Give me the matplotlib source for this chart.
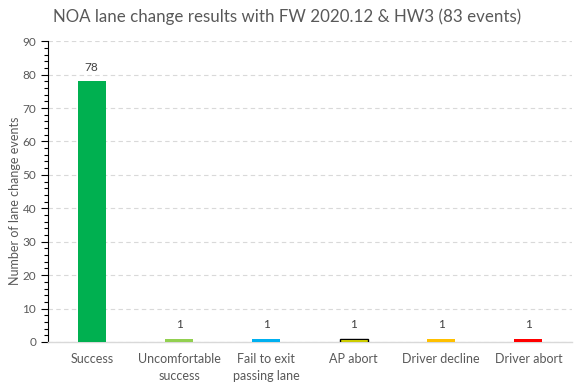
import matplotlib
matplotlib.use("Agg")
import matplotlib.pyplot as plt
from matplotlib.ticker import MultipleLocator

categories = ["Success", "Uncomfortable\nsuccess", "Fail to exit\npassing lane",
              "AP abort", "Driver decline", "Driver abort"]
counts = [78, 1, 1, 1, 1, 1]
colors = ["#00B050", "#92D050", "#00B0F0", "#FFFF00", "#FFC000", "#FF0000"]
edges = ["none", "none", "none", "black", "none", "none"]

plt.rcParams["font.family"] = ["Lato", "DejaVu Sans"]
GRAY = "#595959"

fig = plt.figure(figsize=(5.82, 3.92), dpi=100)
ax = fig.add_axes([0.0825, 0.1276, 0.9005, 0.7674])

x = range(len(categories))
ax.bar(x, counts, width=0.32, color=colors, edgecolor=edges, linewidth=1.0, zorder=3)
for xi, v in zip(x, counts):
    ax.annotate(str(v), (xi, v), xytext=(0, 6), textcoords="offset points",
                ha="center", va="bottom", fontsize=8.5, color="#404040")

ax.set_xlim(-0.5, len(categories) - 0.5)
ax.set_ylim(0, 90)
ax.yaxis.set_major_locator(MultipleLocator(10))
ax.yaxis.set_minor_locator(MultipleLocator(2))
ax.grid(axis="y", which="major", linestyle=(0, (4, 3)), color="#D9D9D9", linewidth=0.8, zorder=0)

for s in ("top", "right"):
    ax.spines[s].set_visible(False)
ax.spines["left"].set_color("black")
ax.spines["left"].set_linewidth(0.8)
ax.spines["bottom"].set_color("#D9D9D9")
ax.spines["bottom"].set_linewidth(1.0)

ax.tick_params(axis="y", which="major", direction="out", length=5, width=0.8,
               colors="black", labelcolor=GRAY, labelsize=8.5)
ax.tick_params(axis="y", which="minor", direction="out", length=3, width=0.8, colors="black")
ax.tick_params(axis="x", length=0, labelcolor=GRAY, labelsize=9, pad=8)
ax.set_xticks(list(x))
ax.set_xticklabels(categories, linespacing=1.45)

ax.set_ylabel("Number of lane change events", fontsize=9, color=GRAY)
ax.yaxis.set_label_coords(-0.052, 0.47)
fig.suptitle("NOA lane change results with FW 2020.12 & HW3 (83 events)",
             fontsize=12.2, color=GRAY, x=0.494, y=0.978)

fig.savefig("out.png", dpi=100)
